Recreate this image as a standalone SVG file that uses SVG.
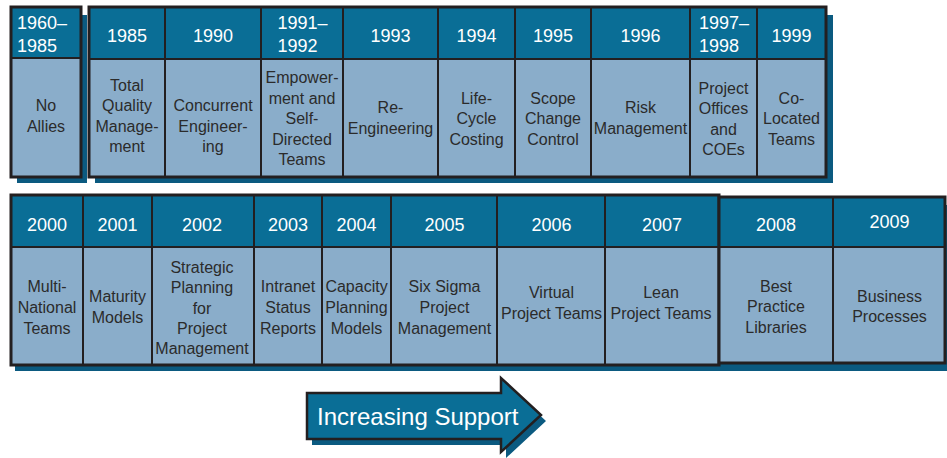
<svg xmlns="http://www.w3.org/2000/svg" width="947" height="458" viewBox="0 0 947 458">
<style>
.hd{fill:#0a6e96;stroke:#231f20;stroke-width:2}
.bd{fill:#8aadca;stroke:#231f20;stroke-width:2}
.sh{fill:#0b5a80}
.fr{fill:none;stroke:#231f20;stroke-width:3}
text{font-family:"Liberation Sans",Arial,Helvetica,sans-serif}
.ht{font-size:18px;fill:#ffffff;text-anchor:middle}
.hl{font-size:18px;fill:#ffffff}
.bt{font-size:16px;fill:#2b2b2b;text-anchor:middle}
.at{font-size:24px;fill:#ffffff}
</style>
<rect width="947" height="458" fill="#ffffff"/>
<!-- shadows -->
<rect class="sh" x="17" y="15" width="70" height="168"/>
<rect class="sh" x="95" y="15" width="738" height="168"/>
<rect class="sh" x="15" y="205" width="932" height="166"/>

<g id="c1960">
<rect class="hd" x="11" y="7" width="70" height="51"/>
<rect class="bd" x="11" y="58" width="70" height="119"/>
<text class="hl" x="17" y="29">1960–</text><text class="hl" x="17" y="51.5">1985</text>
<text class="bt"><tspan x="46" y="111">No</tspan><tspan x="46" y="131.5">Allies</tspan></text>
</g>
<rect class="fr" x="11" y="7" width="70" height="170"/>

<g id="c1985">
<rect class="hd" x="89" y="7" width="76" height="52"/>
<rect class="bd" x="89" y="59" width="76" height="118"/>
<text class="ht" x="127" y="41.5">1985</text>
<text class="bt"><tspan x="127" y="90.5">Total</tspan><tspan x="127" y="111">Quality</tspan><tspan x="127" y="131.5">Manage-</tspan><tspan x="127" y="152">ment</tspan></text>
</g>
<g id="c1990">
<rect class="hd" x="165" y="7" width="96" height="52"/>
<rect class="bd" x="165" y="59" width="96" height="118"/>
<text class="ht" x="213" y="41.5">1990</text>
<text class="bt"><tspan x="213" y="111">Concurrent</tspan><tspan x="213" y="131.5">Engineer-</tspan><tspan x="213" y="152">ing</tspan></text>
</g>
<g id="c1991">
<rect class="hd" x="261" y="7" width="82" height="52"/>
<rect class="bd" x="261" y="59" width="82" height="118"/>
<text class="hl" x="277.5" y="29">1991–</text><text class="hl" x="277.5" y="51.5">1992</text>
<text class="bt"><tspan x="302" y="83">Empower-</tspan><tspan x="302" y="103.5">ment and</tspan><tspan x="302" y="124">Self-</tspan><tspan x="302" y="144.5">Directed</tspan><tspan x="302" y="165">Teams</tspan></text>
</g>
<g id="c1993">
<rect class="hd" x="343" y="7" width="95" height="52"/>
<rect class="bd" x="343" y="59" width="95" height="118"/>
<text class="ht" x="390.5" y="41.5">1993</text>
<text class="bt"><tspan x="390.5" y="113">Re-</tspan><tspan x="390.5" y="133.5">Engineering</tspan></text>
</g>
<g id="c1994">
<rect class="hd" x="438" y="7" width="77" height="52"/>
<rect class="bd" x="438" y="59" width="77" height="118"/>
<text class="ht" x="476.5" y="41.5">1994</text>
<text class="bt"><tspan x="476.5" y="104">Life-</tspan><tspan x="476.5" y="124">Cycle</tspan><tspan x="476.5" y="144.5">Costing</tspan></text>
</g>
<g id="c1995">
<rect class="hd" x="515" y="7" width="76" height="52"/>
<rect class="bd" x="515" y="59" width="76" height="118"/>
<text class="ht" x="553" y="41.5">1995</text>
<text class="bt"><tspan x="553" y="104">Scope</tspan><tspan x="553" y="124">Change</tspan><tspan x="553" y="144.5">Control</tspan></text>
</g>
<g id="c1996">
<rect class="hd" x="591" y="7" width="99" height="52"/>
<rect class="bd" x="591" y="59" width="99" height="118"/>
<text class="ht" x="640.5" y="41.5">1996</text>
<text class="bt"><tspan x="640.5" y="113">Risk</tspan><tspan x="640.5" y="133.5">Management</tspan></text>
</g>
<g id="c1997">
<rect class="hd" x="690" y="7" width="67" height="52"/>
<rect class="bd" x="690" y="59" width="67" height="118"/>
<text class="hl" x="699" y="29">1997–</text><text class="hl" x="699" y="51.5">1998</text>
<text class="bt"><tspan x="723.5" y="93.5">Project</tspan><tspan x="723.5" y="114">Offices</tspan><tspan x="723.5" y="134.5">and</tspan><tspan x="723.5" y="155">COEs</tspan></text>
</g>
<g id="c1999">
<rect class="hd" x="757" y="7" width="69" height="52"/>
<rect class="bd" x="757" y="59" width="69" height="118"/>
<text class="ht" x="791.5" y="41.5">1999</text>
<text class="bt"><tspan x="791.5" y="103.5">Co-</tspan><tspan x="791.5" y="124">Located</tspan><tspan x="791.5" y="144.5">Teams</tspan></text>
</g>
<rect class="fr" x="89" y="7" width="737" height="170"/>

<!-- bottom row -->
<g id="c2000">
<rect class="hd" x="11" y="195" width="72" height="52"/>
<rect class="bd" x="11" y="247" width="72" height="118"/>
<text class="ht" x="47" y="230.5">2000</text>
<text class="bt"><tspan x="47" y="291.5">Multi-</tspan><tspan x="47" y="312.5">National</tspan><tspan x="47" y="333.5">Teams</tspan></text>
</g>
<g id="c2001">
<rect class="hd" x="83" y="195" width="69" height="52"/>
<rect class="bd" x="83" y="247" width="69" height="118"/>
<text class="ht" x="117.5" y="230.5">2001</text>
<text class="bt"><tspan x="117.5" y="302">Maturity</tspan><tspan x="117.5" y="322.5">Models</tspan></text>
</g>
<g id="c2002">
<rect class="hd" x="152" y="195" width="102" height="52"/>
<rect class="bd" x="152" y="247" width="102" height="118"/>
<text class="ht" x="202" y="230.5">2002</text>
<text class="bt"><tspan x="202" y="272.5">Strategic</tspan><tspan x="202" y="292.5">Planning</tspan><tspan x="202" y="313.5">for</tspan><tspan x="202" y="334">Project</tspan><tspan x="202" y="354">Management</tspan></text>
</g>
<g id="c2003">
<rect class="hd" x="254" y="195" width="68" height="52"/>
<rect class="bd" x="254" y="247" width="68" height="118"/>
<text class="ht" x="288" y="230.5">2003</text>
<text class="bt"><tspan x="288" y="291.5">Intranet</tspan><tspan x="288" y="312.5">Status</tspan><tspan x="288" y="333.5">Reports</tspan></text>
</g>
<g id="c2004">
<rect class="hd" x="322" y="195" width="69" height="52"/>
<rect class="bd" x="322" y="247" width="69" height="118"/>
<text class="ht" x="356.5" y="230.5">2004</text>
<text class="bt"><tspan x="356.5" y="291.5">Capacity</tspan><tspan x="356.5" y="312.5">Planning</tspan><tspan x="356.5" y="333.5">Models</tspan></text>
</g>
<g id="c2005">
<rect class="hd" x="391" y="195" width="106" height="52"/>
<rect class="bd" x="391" y="247" width="106" height="118"/>
<text class="ht" x="444.5" y="230.5">2005</text>
<text class="bt"><tspan x="444.5" y="291.5">Six Sigma</tspan><tspan x="444.5" y="312.5">Project</tspan><tspan x="444.5" y="333.5">Management</tspan></text>
</g>
<g id="c2006">
<rect class="hd" x="497" y="195" width="108" height="52"/>
<rect class="bd" x="497" y="247" width="108" height="118"/>
<text class="ht" x="551.5" y="230.5">2006</text>
<text class="bt"><tspan x="551.5" y="298">Virtual</tspan><tspan x="551.5" y="318.5">Project Teams</tspan></text>
</g>
<g id="c2007">
<rect class="hd" x="605" y="195" width="114" height="52"/>
<rect class="bd" x="605" y="247" width="114" height="118"/>
<text class="ht" x="662" y="230.5">2007</text>
<text class="bt"><tspan x="661" y="298">Lean</tspan><tspan x="661" y="318.5">Project Teams</tspan></text>
</g>
<rect class="fr" x="11" y="195" width="708" height="170"/>
<g id="c2008">
<rect class="hd" x="719" y="197" width="114" height="50"/>
<rect class="bd" x="719" y="247" width="114" height="116"/>
<text class="ht" x="776" y="230.5">2008</text>
<text class="bt"><tspan x="776" y="291.5">Best</tspan><tspan x="776" y="311.5">Practice</tspan><tspan x="776" y="332.5">Libraries</tspan></text>
</g>
<g id="c2009">
<rect class="hd" x="833" y="197" width="112" height="50"/>
<rect class="bd" x="833" y="247" width="112" height="116"/>
<text class="ht" x="889.5" y="228">2009</text>
<text class="bt"><tspan x="889.5" y="301.5">Business</tspan><tspan x="889.5" y="322">Processes</tspan></text>
</g>
<rect class="fr" x="719" y="197" width="226" height="166"/>

<g id="connectors"></g>

<g id="arrow">
<path class="sh" d="M312,399 H506 V384 L546,421 L506,458 V445 H312 Z"/>
<path d="M307,393 H501 V378 L541,415 L501,452 V439 H307 Z" fill="#0a6e96" stroke="#231f20" stroke-width="2.5" stroke-linejoin="miter"/>
<text class="at" x="317" y="425">Increasing Support</text>
</g>
</svg>
